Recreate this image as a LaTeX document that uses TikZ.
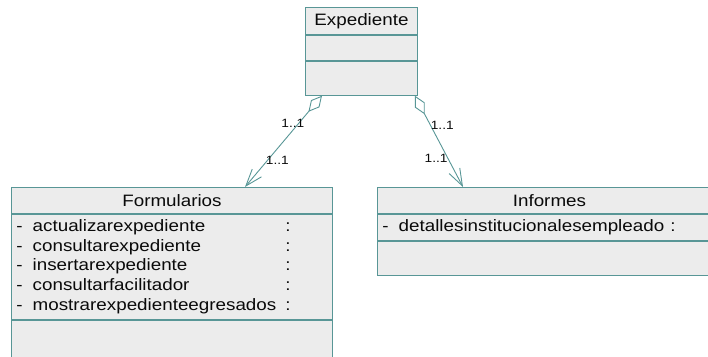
\documentclass[tikz,border=0pt]{standalone}
\usepackage{fontspec}
\setmainfont{Liberation Sans}[FakeStretch=1.14]
\usetikzlibrary{arrows.meta}
\definecolor{umlline}{RGB}{88,150,150}
\definecolor{umlfill}{RGB}{236,236,236}
\definecolor{umltext}{RGB}{10,10,10}

\begin{document}
\begin{tikzpicture}[x=1pt, y=-1pt]
      \tikzset{classpart/.style={draw=umlline, fill=umlfill, line width=0.9pt, inner xsep=5pt, inner ysep=3pt, text=umltext, font=\fontsize{16.5}{19.8}\selectfont}}
      \tikzset{attrlist/.style={classpart, text width=#1, align=left}}
      \tikzset{mult/.style={text=umltext, font=\fontsize{12}{14}\selectfont, inner sep=1pt}}
      \tikzset{aggr/.style={draw=umlline, line width=0.9pt, {Diamond[open, length=21pt, width=11pt]}-{Straight Barb[length=17pt, width=12pt]}}}
      \useasboundingbox (0,0) rectangle (708,356);
      \clip (0,0) rectangle (708,356);
%% Classes
	%Expediente
	\node[classpart, minimum width=112, minimum height=27, anchor=north west] (exp) at (305,7) {Expediente};
	\node[classpart, minimum width=112, minimum height=25, anchor=north] (expattr) at (exp.south) {};
	\node[classpart, minimum width=112, minimum height=34, anchor=north] (expops) at (expattr.south) {};
	%Formularios
	\node[classpart, minimum width=321, minimum height=26, anchor=north west] (form) at (11,187) {Formularios};
	\node[attrlist=311pt, minimum height=105, anchor=north] (formattr) at (form.south) {%
		\begin{tabular}{@{}l@{\hspace{10pt}}l@{\hspace{9pt}}l@{}}
		- & actualizarexpediente & :\\
		- & consultarexpediente & :\\
		- & insertarexpediente & :\\
		- & consultarfacilitador & :\\
		- & mostrarexpedienteegresados & :
		\end{tabular}};
	\node[classpart, minimum width=321, minimum height=60, anchor=north] (formops) at (formattr.south) {};
	%Informes
	\node[classpart, minimum width=344, minimum height=26, anchor=north west] (inf) at (377,187) {Informes};
	\node[attrlist=334pt, minimum height=25, anchor=north] (infattr) at (inf.south) {%
		\begin{tabular}{@{}l@{\hspace{10pt}}l@{\hspace{6pt}}l@{}}
		- & detallesinstitucionalesempleado & :
		\end{tabular}};
	\node[classpart, minimum width=344, minimum height=34, anchor=north] (infops) at (infattr.south) {};
%% Associations
	\draw [aggr] ([xshift=17pt]expops.south west) -- node[mult, pos=0.3, xshift=-6pt] {1..1} node[mult, pos=0.71, xshift=10pt] {1..1} ([xshift=234pt]form.north west);
	\draw [aggr] ([xshift=-3pt]expops.south east) -- node[mult, pos=0.33, xshift=11.5pt] {1..1} node[mult, pos=0.69, xshift=-12pt] {1..1} ([xshift=86pt]inf.north west);
\end{tikzpicture}
\end{document}
